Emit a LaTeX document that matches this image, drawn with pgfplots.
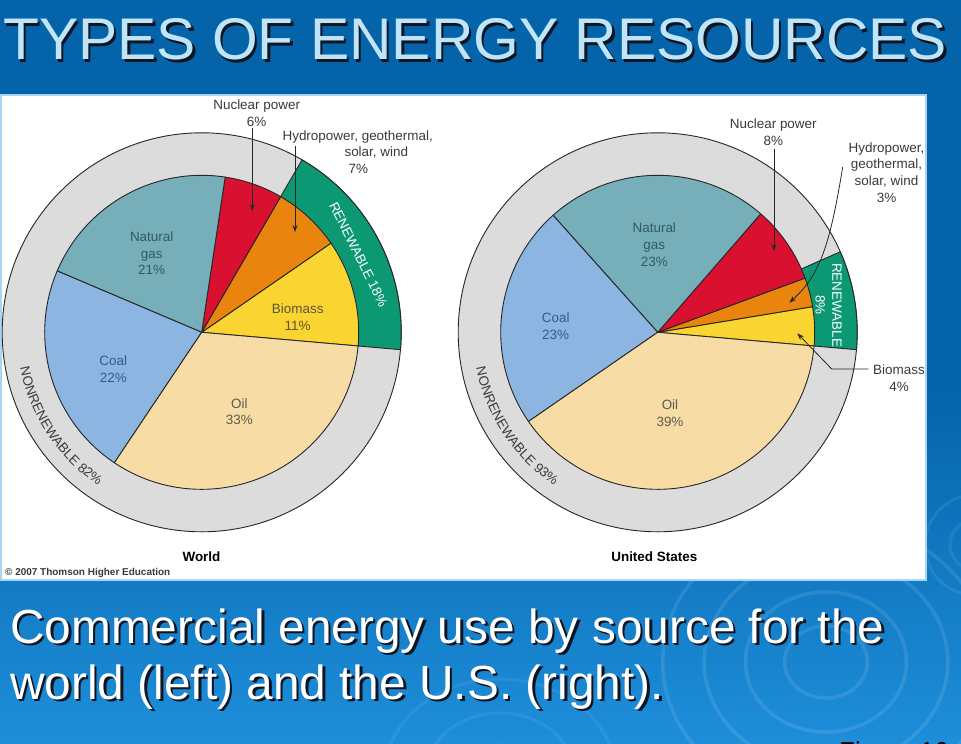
\documentclass[border=0pt]{standalone}
\usepackage{pgfplots}
\pgfplotsset{compat=1.18}
\usepackage{pgfplotstable}
\usepackage{fontspec}
\setmainfont{Liberation Sans}
\usetikzlibrary{arrows.meta,decorations.text}

% slide colours
\definecolor{slideTop}{HTML}{0563A9}
\definecolor{slideBot}{HTML}{1E8EDA}
\definecolor{titleBlue}{HTML}{BFE5FB}
\definecolor{shadowDark}{HTML}{0E1420}
\definecolor{panelEdge}{HTML}{A9D5F2}
% pie colours
\definecolor{cGas}{HTML}{76AEB9}
\definecolor{cNuc}{HTML}{D9102F}
\definecolor{cHyd}{HTML}{E9840F}
\definecolor{cBio}{HTML}{FAD431}
\definecolor{cOil}{HTML}{F8DCA6}
\definecolor{cCoal}{HTML}{8CB5E1}
\definecolor{cRen}{HTML}{0C9873}
\definecolor{cRing}{HTML}{DCDCDC}
\definecolor{lineDark}{HTML}{262626}
\definecolor{labelGray}{HTML}{3A3A3A}
\definecolor{tGas}{HTML}{2F5B66}
\definecolor{tCoal}{HTML}{2C5D92}
\definecolor{tOil}{HTML}{5E5A4E}
\definecolor{tBio}{HTML}{5C5638}

% commercial energy use by source, per cent, counter-clockwise from biomass
\pgfplotstableread{
source   share fill
Biomass  11    cBio
Hydro    7     cHyd
Nuclear  6     cNuc
Gas      21    cGas
Coal     22    cCoal
Oil      33    cOil
}\worldtab
\pgfplotstableread{
group     share fill
Renewable 18    cRen
}\worldgrp
\pgfplotstableread{
source   share fill
Biomass  4     cBio
Hydro    3     cHyd
Nuclear  8     cNuc
Gas      23    cGas
Coal     23    cCoal
Oil      39    cOil
}\ustab
\pgfplotstableread{
group     share fill
Renewable 8     cRen
}\usgrp

% wedges of a table, from a start angle, with a radius in axis units (= bp)
\newcommand\pieslices[3]{%
  \pgfplotstablegetrowsof{#1}%
  \pgfmathtruncatemacro\lastrow{\pgfplotsretval-1}%
  \pgfmathsetmacro\angfrom{#2}%
  \pgfplotsforeachungrouped \r in {0,...,\lastrow}{%
    \pgfplotstablegetelem{\r}{share}\of{#1}\let\sh\pgfplotsretval
    \pgfplotstablegetelem{\r}{fill}\of{#1}\let\fc\pgfplotsretval
    \pgfmathsetmacro\angto{\angfrom+3.6*\sh}%
    \pgfmathsetmacro\xa{#3*cos(\angfrom)}%
    \pgfmathsetmacro\ya{#3*sin(\angfrom)}%
    \edef\wedge{\noexpand\filldraw[fill=\fc,draw=lineDark,line width=0.9bp,line join=round]
      (axis cs:0,0) -- (axis cs:\xa,\ya) arc[start angle=\angfrom,end angle=\angto,radius=#3bp] -- cycle;}%
    \wedge
    \global\let\angfrom\angto
  }%
}

\pgfplotsset{pieaxis/.style={hide axis, scale only axis, width=400bp, height=400bp,
  xmin=-200, xmax=200, ymin=-200, ymax=200, anchor=origin, clip=false}}

\newcommand\labelfont{\fontsize{13.5}{16.8}\selectfont}
\newcommand\titlefont{\fontsize{59}{64}\selectfont}
\newcommand\capfont{\fontsize{48}{56}\selectfont}

\begin{document}
\begin{tikzpicture}
\path[use as bounding box] (0,0) rectangle (961bp,-744bp);
\clip (0,0) rectangle (961bp,-744bp);

\begin{scope}[x=1bp,y=-1bp]
  % slide background
  \fill[slideTop] (0,0) rectangle (961,744);
  \shade[top color=slideTop,bottom color=slideBot] (0,380) rectangle (961,744);
  \foreach \r in {36,70,106,142}{
    \draw[white,opacity=0.10,line width=3.5bp] (826,662) ellipse [x radius=1.15*\r, y radius=\r];}
  \foreach \r in {30,62,96}{
    \draw[white,opacity=0.07,line width=3bp] (500,775) ellipse [x radius=1.2*\r, y radius=\r];}
  \foreach \r in {25,50}{
    \draw[white,opacity=0.08,line width=3bp] (975,545) ellipse [x radius=\r, y radius=\r];}

  % title
  \node[anchor=base west,inner sep=0,text=shadowDark,font=\titlefont] at (5.5,62) {TYPES OF ENERGY RESOURCES};
  \node[anchor=base west,inner sep=0,text=titleBlue,font=\titlefont] at (3,59.5) {TYPES OF ENERGY RESOURCES};

  % caption
  \node[anchor=base west,inner sep=0,text=shadowDark,font=\capfont] at (12.5,645.5) {Commercial energy use by source for the};
  \node[anchor=base west,inner sep=0,text=white,font=\capfont] at (10,643.3) {Commercial energy use by source for the};
  \node[anchor=base west,inner sep=0,text=shadowDark,font=\capfont] at (12.5,701.7) {world (left) and the U.S. (right).};
  \node[anchor=base west,inner sep=0,text=white,font=\capfont] at (10,699.5) {world (left) and the U.S. (right).};
  \node[anchor=base west,inner sep=0,text=black,font=\fontsize{26}{30}\selectfont] at (839,760) {Figure 16};

  % figure panel
  \fill[white] (1,95) rectangle (926,580);
  \draw[panelEdge,line width=1.5bp] (1,95) rectangle (926,580);
\end{scope}

% world
\begin{axis}[pieaxis, at={(201.7bp,-332.3bp)}]
  \filldraw[fill=cRing,draw=lineDark,line width=0.9bp] (axis cs:0,0) circle[radius=199.5bp];
  \pieslices{\worldgrp}{-5}{199.5}
  \pieslices{\worldtab}{-5}{157}
\end{axis}

% United States
\begin{axis}[pieaxis, at={(657.7bp,-332.3bp)}]
  \filldraw[fill=cRing,draw=lineDark,line width=0.9bp] (axis cs:0,0) circle[radius=199.5bp];
  \pieslices{\usgrp}{-5}{199.5}
  \pieslices{\ustab}{-5}{157}
\end{axis}

% ring labels
\begin{scope}[shift={(201.7bp,-332.3bp)}]
  \path[decorate,decoration={text along path,text align=center,
    text={|\labelfont\color{labelGray}|NONRENEWABLE 82{\%}}}]
    (178:185bp) arc[start angle=178,end angle=249,radius=185bp];
  \node[text=white,font=\labelfont,inner sep=0,rotate=-63.6] at (26.4:175bp) {RENEWABLE 18\%};
\end{scope}
\begin{scope}[shift={(657.7bp,-332.3bp)}]
  \path[decorate,decoration={text along path,text align=center,
    text={|\labelfont\color{labelGray}|NONRENEWABLE 93{\%}}}]
    (178:185bp) arc[start angle=178,end angle=249,radius=185bp];
  \node[text=white,font=\labelfont,inner sep=0,rotate=-90,align=center] at (9:173bp) {RENEWABLE\\8\%};
\end{scope}

% slice labels and call-outs
\begin{scope}[x=1bp,y=-1bp]
  \clip (1,95) rectangle (926,580);
  \tikzset{lab/.style={font=\labelfont,inner sep=0,align=center},
           callout/.style={draw=lineDark,line width=0.8bp,-{Stealth[length=7bp,width=5bp]}}}
  % world
  \node[lab,text=labelGray] at (256.7,113.3) {Nuclear power\\6\%};
  \draw[callout] (252.3,128) -- (252.3,211);
  \node[lab,text=labelGray] at (357.7,136.7) {Hydropower, geothermal,};
  \node[lab,text=labelGray] at (376.3,152.7) {solar, wind};
  \node[lab,text=labelGray] at (358.3,169.3) {7\%};
  \draw[callout] (295,146) -- (295,232);
  \node[lab,text=tGas] at (151.7,253.3) {Natural\\gas\\21\%};
  \node[lab,text=tCoal] at (113.3,369) {Coal\\22\%};
  \node[lab,text=tBio] at (297.7,317.3) {Biomass\\11\%};
  \node[lab,text=tOil] at (239.3,411.7) {Oil\\33\%};
  \node[inner sep=0,font=\fontsize{13.5}{16}\selectfont\bfseries] at (201.5,557) {World};
  \node[anchor=west,inner sep=0,font=\fontsize{10}{12}\selectfont\bfseries,text=labelGray] at (5,573.3) {\textcopyright\ 2007 Thomson Higher Education};
  % United States
  \node[lab,text=labelGray] at (773.3,132) {Nuclear power\\8\%};
  \draw[callout] (774,149) -- (774,251);
  \node[lab,text=labelGray] at (886.5,172.5) {Hydropower,\\geothermal,\\solar, wind\\3\%};
  \draw[callout] (842.7,167) .. controls (830,245) and (820,275) .. (789.3,302.7);
  \node[lab,text=labelGray] at (899,378.3) {Biomass\\4\%};
  \draw[callout] (868.3,369) -- (831.7,369) -- (797.3,333.3);
  \node[lab,text=tGas] at (654.3,244.7) {Natural\\gas\\23\%};
  \node[lab,text=tCoal] at (555.7,326.3) {Coal\\23\%};
  \node[lab,text=tOil] at (670,413) {Oil\\39\%};
  \node[inner sep=0,font=\fontsize{13.5}{16}\selectfont\bfseries] at (654.3,556.5) {United States};
\end{scope}
\end{tikzpicture}
\end{document}
